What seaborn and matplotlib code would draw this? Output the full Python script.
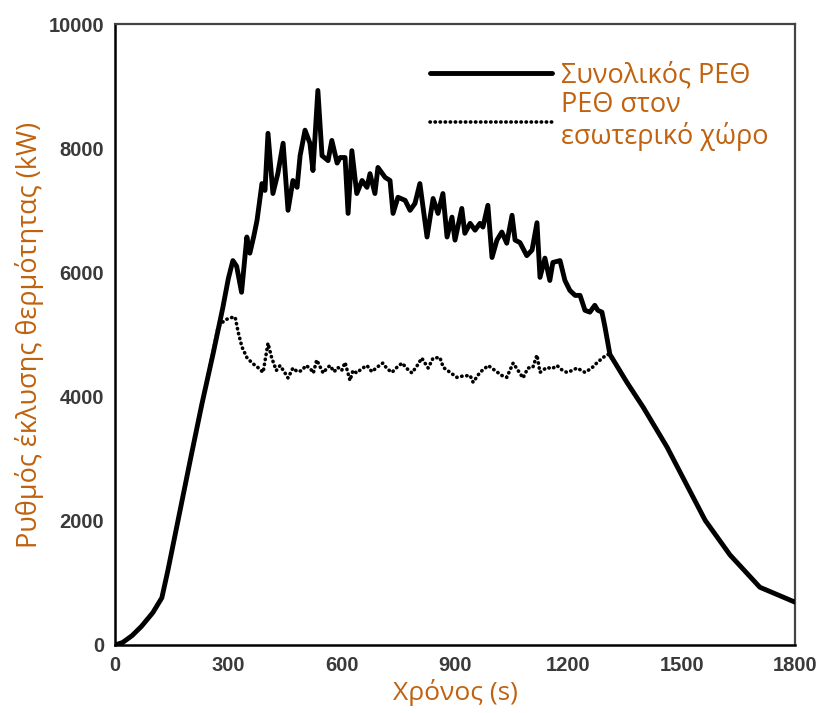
import numpy as np
import pandas as pd
import matplotlib
matplotlib.use("Agg")
import matplotlib.pyplot as plt
import seaborn as sns
from matplotlib.ticker import MultipleLocator

# ---------------- data ----------------
t_total = [0, 20, 45, 70, 100, 124, 140, 170, 200, 230, 260, 285, 300, 312, 322, 335,
           349, 357, 368, 376, 389, 397, 405, 418, 431, 445, 458, 471, 482, 490, 503,
           516, 524, 537, 548, 564, 574, 588, 596, 609, 617, 627, 640, 654, 667, 675,
           688, 696, 715, 728, 736, 749, 768, 781, 794, 807, 826, 842, 855, 868, 879,
           892, 900, 918, 926, 940, 953, 966, 974, 987, 998, 1011, 1024, 1037, 1051,
           1059, 1072, 1090, 1104, 1117, 1125, 1138, 1151, 1159, 1178, 1191, 1204,
           1218, 1231, 1244, 1257, 1270, 1278, 1289, 1297, 1310, 1330, 1355, 1398,
           1461, 1562, 1628, 1707, 1800]
q_total = [0, 40, 150, 300, 520, 760, 1200, 2100, 3000, 3880, 4700, 5420, 5900, 6190,
           6100, 5680, 6570, 6310, 6600, 6840, 7430, 7320, 8240, 7270, 7590, 8080, 7000,
           7480, 7370, 7880, 8290, 8080, 7640, 8930, 7880, 7800, 8125, 7760, 7850, 7850,
           6950, 7960, 7270, 7480, 7370, 7590, 7270, 7690, 7530, 7480, 6950, 7210, 7160,
           7000, 7110, 7430, 6570, 7190, 6950, 7270, 6570, 6890, 6520, 7030, 6630, 6790,
           6680, 6790, 6730, 7080, 6240, 6520, 6650, 6470, 6920, 6520, 6480, 6270, 6360,
           6800, 5920, 6230, 5870, 6160, 6190, 5870, 5710, 5630, 5630, 5390, 5360, 5470,
           5390, 5360, 5120, 4680, 4480, 4230, 3830, 3190, 2010, 1450, 930, 690]

t_inner = [250, 273, 290, 305, 318, 326, 336, 349, 363, 378, 392, 405, 415, 427, 437,
           450, 458, 471, 483, 495, 505, 516, 525, 534, 551, 560, 569, 580, 590, 600,
           609, 622, 630, 640, 653, 667, 680, 693, 709, 720, 733, 746, 760, 773, 786,
           800, 812, 829, 842, 860, 869, 887, 905, 920, 940, 948, 966, 988, 1006, 1024,
           1037, 1054, 1067, 1080, 1093, 1106, 1117, 1125, 1143, 1157, 1170, 1183, 1196,
           1210, 1223, 1244, 1262, 1275, 1292, 1305, 1318, 1330, 1355, 1398]
q_inner = [4430, 5120, 5230, 5270, 5280, 5040, 4800, 4630, 4540, 4470, 4390, 4860, 4620,
           4420, 4500, 4380, 4300, 4460, 4400, 4420, 4500, 4460, 4380, 4590, 4380, 4450,
           4500, 4400, 4470, 4420, 4550, 4260, 4420, 4380, 4450, 4500, 4400, 4470, 4540,
           4450, 4390, 4470, 4540, 4450, 4380, 4500, 4620, 4460, 4620, 4630, 4470, 4390,
           4310, 4330, 4340, 4230, 4390, 4500, 4420, 4340, 4310, 4540, 4420, 4300, 4460,
           4470, 4670, 4390, 4470, 4450, 4500, 4430, 4390, 4420, 4460, 4390, 4460, 4540,
           4630, 4680, 4600, 4480, 4230, 3830]

label_total = "Συνολικός ΡΕΘ"
label_inner = "ΡΕΘ στον\nεσωτερικό χώρο"
x_label = "Χρόνος (s)"
y_label = "Ρυθμός έκλυσης θερμότητας (kW)"
x_ticks = [0, 300, 600, 900, 1200, 1500, 1800]
y_ticks = [0, 2000, 4000, 6000, 8000, 10000]

# ---------------- style ----------------
sns.set_style("white")
plt.rcParams['font.family'] = ['Open Sans', 'DejaVu Sans']
label_color = "#C0620F"

fig = plt.figure(figsize=(8.18, 7.13), dpi=100)
ax = fig.add_axes([115/818, 1 - 645/713, (795 - 115)/818, (645 - 24)/713])

df_total = pd.DataFrame({"t": t_total, "q": q_total})
df_inner = pd.DataFrame({"t": t_inner, "q": q_inner})

sns.lineplot(data=df_inner, x="t", y="q", ax=ax, color="black", linewidth=2.6,
             linestyle=(0, (0.1, 1.3)), dash_capstyle="round", label=label_inner,
             estimator=None, sort=False, zorder=2)
sns.lineplot(data=df_total, x="t", y="q", ax=ax, color="black", linewidth=3.5,
             label=label_total, estimator=None, sort=False, zorder=3)

ax.set_xlim(0, 1800)
ax.set_ylim(0, 10000)
ax.set_xticks(x_ticks)
ax.set_yticks(y_ticks)
ax.xaxis.set_minor_locator(MultipleLocator(60))
ax.yaxis.set_minor_locator(MultipleLocator(400))
ax.tick_params(which="major", direction="in", length=9, width=1.5, color="black",
               labelsize=14.5, labelcolor="#3a3a3a", pad=8)
ax.tick_params(which="minor", direction="in", length=4.5, width=1.2, color="black")
for lab in ax.get_xticklabels() + ax.get_yticklabels():
    lab.set_fontfamily(["Liberation Sans", "DejaVu Sans"])
    lab.set_fontweight("bold")

for s in ["left", "bottom"]:
    ax.spines[s].set_color("black")
    ax.spines[s].set_linewidth(1.8)
for s in ["top", "right"]:
    ax.spines[s].set_color("#444444")
    ax.spines[s].set_linewidth(1.6)

ax.set_xlabel(x_label, fontsize=19, color=label_color, labelpad=3)
ax.set_ylabel(y_label, fontsize=19.5, color=label_color, labelpad=3)

handles, labels = ax.get_legend_handles_labels()
order = [labels.index(label_total), labels.index(label_inner)]
leg = ax.legend([handles[i] for i in order], [labels[i] for i in order],
                loc="upper left", bbox_to_anchor=(0.463, 0.94), frameon=False,
                fontsize=19.5, handlelength=4.5, handletextpad=0.33, labelspacing=0.05,
                borderaxespad=0.0, borderpad=0.0)
for txt in leg.get_texts():
    txt.set_color(label_color)
    txt.set_linespacing(1.15)

fig.savefig("out.png", dpi=100)
